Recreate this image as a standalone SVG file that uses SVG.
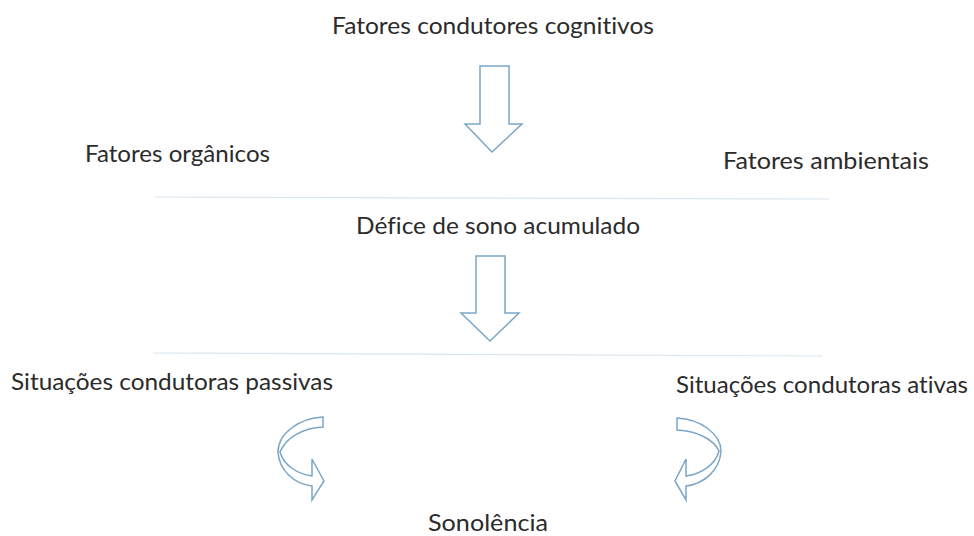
<svg xmlns="http://www.w3.org/2000/svg" width="974" height="536" viewBox="0 0 974 536">
<style>
.t{font-family:Lato,"Open Sans","Liberation Sans",sans-serif;font-size:23px;fill:#2b2b2b;font-variant-ligatures:none}
.a{fill:#fff;stroke:#7aa6c8;stroke-width:1.5;stroke-linejoin:miter}
.l{stroke:#dbe6ee;stroke-width:1.2}
</style>
<rect width="974" height="536" fill="#fff"/>
<g id="n-cognitivos"><text class="t" x="332" y="34" textLength="322" lengthAdjust="spacingAndGlyphs">Fatores condutores cognitivos</text></g>
<g id="n-organicos"><text class="t" x="85" y="162" textLength="185" lengthAdjust="spacingAndGlyphs">Fatores orgânicos</text></g>
<g id="n-ambientais"><text class="t" x="723" y="169" textLength="206" lengthAdjust="spacingAndGlyphs">Fatores ambientais</text></g>
<g id="n-defice"><text class="t" x="356" y="234" textLength="284" lengthAdjust="spacingAndGlyphs">Défice de sono acumulado</text></g>
<g id="n-passivas"><text class="t" x="11" y="390" textLength="322" lengthAdjust="spacingAndGlyphs">Situações condutoras passivas</text></g>
<g id="n-ativas"><text class="t" x="676" y="393" textLength="292" lengthAdjust="spacingAndGlyphs">Situações condutoras ativas</text></g>
<g id="n-sonolencia"><text class="t" x="428" y="531" textLength="120" lengthAdjust="spacingAndGlyphs">Sonolência</text></g>
<g id="connectors">
<line class="l" x1="155" y1="197" x2="829" y2="199"/>
<line class="l" x1="153" y1="353" x2="823" y2="356"/>
<path class="a" d="M480,66 L509,66 L509,124 L522,124 L492,152 L465,124 L480,124 Z"/>
<path class="a" d="M476,256 L505,256 L505,313 L519,313 L490,341 L461,313 L476,313 Z"/>
<path class="a" d="M323,417 L323,427 C302,428 286,438 280,452 C284,466 298,474 312,476 L312,459 L324,481 L312,500 L312,486 C294,484 279,470 278,452 C278,433 300,418 323,417 Z"/>
<path class="a" d="M677,418 L677,430 C698,431 714,440 719,451 C715,466 700,474 686,476 L686,459 L675,481 L686,500 L686,486 C704,484 720,470 721,451 C721,434 700,419 677,418 Z"/>
</g>
</svg>
